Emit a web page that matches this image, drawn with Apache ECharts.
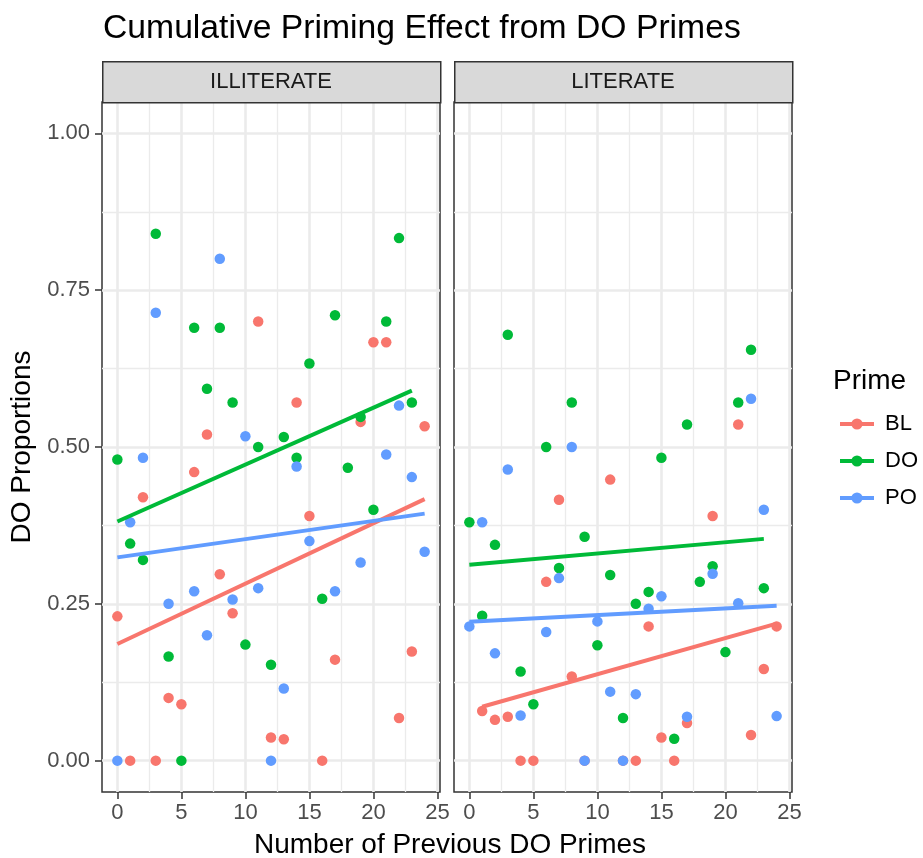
<!DOCTYPE html>
<html><head><meta charset="utf-8">
<script src="https://cdn.jsdelivr.net/npm/echarts@6/dist/echarts.min.js"></script>
<style>html,body{margin:0;padding:0;background:#fff}#c{width:923px;height:858px}</style>
</head><body><div id="c"></div>
<script>
const FONT = "'Liberation Sans', Arial, Helvetica, sans-serif";
const primes = ['BL', 'DO', 'PO'];
const colors = ['#F8766D', '#00BA38', '#619CFF'];
const panels = ['ILLITERATE', 'LITERATE'];
const xTicks = [0, 5, 10, 15, 20, 25];
const xMinor = [2.5, 7.5, 12.5, 17.5, 22.5];
const yTicks = [0, 0.25, 0.5, 0.75, 1];
const yMinor = [0.125, 0.375, 0.625, 0.875];

// ILLITERATE panel
const illBL_x = [0,1,2,3,4,5,6,7,8,9,11,12,13,14,15,16,17,19,20,21,22,23,24];
const illBL_y = [0.23,0,0.42,0,0.10,0.09,0.46,0.52,0.297,0.235,0.70,0.037,0.034,0.571,0.39,0,0.161,0.54,0.667,0.667,0.068,0.174,0.533];
const illDO_x = [0,1,2,3,4,5,6,7,8,9,10,11,12,13,14,15,16,17,18,19,20,21,22,23];
const illDO_y = [0.48,0.346,0.32,0.84,0.166,0,0.69,0.593,0.69,0.571,0.185,0.50,0.153,0.516,0.483,0.633,0.258,0.71,0.467,0.548,0.40,0.70,0.833,0.571];
const illPO_x = [0,1,2,3,4,6,7,8,9,10,11,12,13,14,15,17,19,21,22,23,24];
const illPO_y = [0,0.38,0.483,0.714,0.25,0.27,0.20,0.80,0.257,0.517,0.275,0,0.115,0.469,0.35,0.27,0.316,0.488,0.566,0.452,0.333];

// LITERATE panel
const litBL_x = [1,2,3,4,5,6,7,8,9,11,12,13,14,15,16,17,19,21,22,23,24];
const litBL_y = [0.079,0.065,0.07,0,0,0.285,0.416,0.134,0,0.448,0,0,0.214,0.037,0,0.06,0.39,0.536,0.041,0.146,0.214];
const litDO_x = [0,1,2,3,4,5,6,7,8,9,10,11,12,13,14,15,16,17,18,19,20,21,22,23];
const litDO_y = [0.38,0.231,0.344,0.679,0.142,0.09,0.50,0.307,0.571,0.357,0.184,0.296,0.068,0.25,0.269,0.483,0.035,0.536,0.285,0.31,0.173,0.571,0.655,0.275];
const litPO_x = [0,1,2,3,4,6,7,8,9,10,11,12,13,14,15,17,19,21,22,23,24];
const litPO_y = [0.214,0.38,0.171,0.464,0.072,0.205,0.291,0.50,0,0.222,0.11,0,0.106,0.242,0.262,0.07,0.298,0.251,0.577,0.40,0.071];

const groups = [
  [[illBL_x, illBL_y], [illDO_x, illDO_y], [illPO_x, illPO_y]],
  [[litBL_x, litBL_y], [litDO_x, litDO_y], [litPO_x, litPO_y]]
];

function fit(xs, ys) {
  const n = xs.length;
  let sx = 0, sy = 0, sxx = 0, sxy = 0;
  for (let i = 0; i < n; i++) { sx += xs[i]; sy += ys[i]; sxx += xs[i]*xs[i]; sxy += xs[i]*ys[i]; }
  const b = (n*sxy - sx*sy) / (n*sxx - sx*sx);
  const a = (sy - b*sx) / n;
  const x0 = Math.min(...xs), x1 = Math.max(...xs);
  return [[x0, a + b*x0], [x1, a + b*x1]];
}

const gridLeft = [102, 454], gridTop = 102, gridW = 338, gridH = 690;
const grids = [], xAxes = [], yAxes = [], series = [], graphics = [];
const gridColor = '#EBEBEB';

panels.forEach((pn, p) => {
  grids.push({ left: gridLeft[p], top: gridTop, width: gridW, height: gridH, show: true,
    borderColor: '#333333', borderWidth: 1.5, backgroundColor: '#FFFFFF', containLabel: false });
  xAxes.push({ type: 'value', gridIndex: p, min: -1.2, max: 25.2, position: 'bottom',
    axisLine: { show: false, onZero: false },
    axisTick: { show: true, inside: false, length: 7, customValues: xTicks, lineStyle: { color: '#333333', width: 1.5 } },
    axisLabel: { show: true, customValues: xTicks, margin: 10, color: '#4D4D4D', fontSize: 22, fontFamily: FONT },
    splitLine: { show: true, lineStyle: { color: gridColor, width: 2.6 } } });
  xAxes.push({ type: 'value', gridIndex: p, min: -1.2, max: 25.2, position: 'top',
    axisLine: { show: false, onZero: false }, axisTick: { show: false, customValues: xMinor },
    axisLabel: { show: false, customValues: xMinor },
    splitLine: { show: true, lineStyle: { color: gridColor, width: 1.3 } } });
  yAxes.push({ type: 'value', gridIndex: p, min: -0.05, max: 1.05, position: 'left',
    axisLine: { show: false, onZero: false },
    axisTick: { show: p === 0, inside: false, length: 7, customValues: yTicks, lineStyle: { color: '#333333', width: 1.5 } },
    axisLabel: { show: p === 0, customValues: yTicks, margin: 12, color: '#4D4D4D', fontSize: 22, fontFamily: FONT,
      formatter: v => v.toFixed(2) },
    splitLine: { show: true, lineStyle: { color: gridColor, width: 2.6 } } });
  yAxes.push({ type: 'value', gridIndex: p, min: -0.05, max: 1.05, position: 'right',
    axisLine: { show: false, onZero: false }, axisTick: { show: false, customValues: yMinor },
    axisLabel: { show: false, customValues: yMinor },
    splitLine: { show: true, lineStyle: { color: gridColor, width: 1.3 } } });

  graphics.push({ type: 'rect', left: gridLeft[p], top: 61, shape: { width: gridW, height: 41 },
    style: { fill: '#D9D9D9', stroke: '#333333', lineWidth: 1.5 }, z: 10 });
  graphics.push({ type: 'text', x: gridLeft[p] + gridW / 2, y: 82,
    style: { text: pn, fill: '#1A1A1A', font: '22px ' + FONT, textAlign: 'center', textVerticalAlign: 'middle' }, z: 11 });

  primes.forEach((nm, g) => {
    const [xs, ys] = groups[p][g];
    series.push({ type: 'line', name: nm, xAxisIndex: 2*p, yAxisIndex: 2*p,
      data: fit(xs, ys), showSymbol: false, symbol: 'circle', symbolSize: 10,
      lineStyle: { color: colors[g], width: 4 }, itemStyle: { color: colors[g] }, z: 4, silent: true });
  });
  primes.forEach((nm, g) => {
    const [xs, ys] = groups[p][g];
    series.push({ type: 'scatter', name: nm, xAxisIndex: 2*p, yAxisIndex: 2*p,
      data: xs.map((x, i) => [x, ys[i]]), symbolSize: 10.5,
      itemStyle: { color: colors[g], opacity: 1 }, z: 3, silent: true });
  });
});

graphics.push({ type: 'text', x: 103, y: 29,
  style: { text: 'Cumulative Priming Effect from DO Primes', fill: '#000', font: '33.7px ' + FONT, textVerticalAlign: 'middle' } });
graphics.push({ type: 'text', x: 450, y: 845,
  style: { text: 'Number of Previous DO Primes', fill: '#000', font: '28px ' + FONT, textAlign: 'center', textVerticalAlign: 'middle' } });
graphics.push({ type: 'text', x: 22, y: 447, rotation: Math.PI / 2,
  style: { text: 'DO Proportions', fill: '#000', font: '28px ' + FONT, textAlign: 'center', textVerticalAlign: 'middle' } });
graphics.push({ type: 'text', x: 833, y: 381,
  style: { text: 'Prime', fill: '#000', font: '28px ' + FONT, textVerticalAlign: 'middle' } });

const chart = echarts.init(document.getElementById('c'), null, { renderer: 'canvas' });
chart.setOption({
  animation: false,
  backgroundColor: '#FFFFFF',
  grid: grids,
  xAxis: xAxes,
  yAxis: yAxes,
  legend: { data: primes, orient: 'vertical', left: 838, top: 413, padding: 0, itemWidth: 34, itemHeight: 14, itemGap: 15,
    selectedMode: false,
    lineStyle: { width: 4 },
    textStyle: { fontSize: 22, color: '#000', fontFamily: FONT, lineHeight: 22, padding: [0, 0, 0, 6] } },
  graphic: graphics,
  series: series
});
</script></body></html>
